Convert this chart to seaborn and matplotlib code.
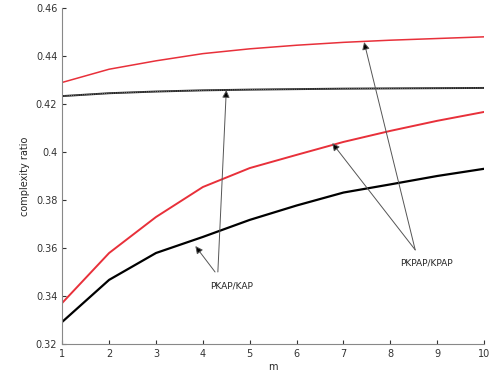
import numpy as np
import pandas as pd
import matplotlib
matplotlib.use("Agg")
import matplotlib.pyplot as plt
import seaborn as sns

# values
m = [1, 2, 3, 4, 5, 6, 7, 8, 9, 10]
pkpap_high = [0.429, 0.4345, 0.438, 0.441, 0.443, 0.4445, 0.4457, 0.4466, 0.4473, 0.448]
pkap_high = [0.4233, 0.4245, 0.4252, 0.4257, 0.426, 0.4262, 0.4264, 0.4265, 0.4266, 0.4267]
pkpap_low = [0.3371, 0.3579, 0.3729, 0.3854, 0.3933, 0.3988, 0.4042, 0.4088, 0.413, 0.4167]
pkap_low = [0.3292, 0.3467, 0.3579, 0.3646, 0.3717, 0.3777, 0.3831, 0.3865, 0.39, 0.393]

yticks = [0.32, 0.34, 0.36, 0.38, 0.4, 0.42, 0.44, 0.46]
ytick_labels = ["0.32", "0.34", "0.36", "0.38", "0.4", "0.42", "0.44", "0.46"]

sns.set_style("ticks")
plt.rcParams['font.family'] = ['DejaVu Sans']

fig, ax = plt.subplots(figsize=(4.9, 3.83), dpi=100)

sns.lineplot(x=m, y=pkpap_high, color="#e8303a", lw=1.1, ax=ax)
sns.lineplot(x=m, y=pkap_high, color="#222222", lw=1.4, ax=ax)
ax.plot(m, pkap_high, color="#999999", lw=0.6, ls=":")
sns.lineplot(x=m, y=pkpap_low, color="#e8303a", lw=1.4, ax=ax)
sns.lineplot(x=m, y=pkap_low, color="black", lw=1.6, ax=ax)

arrow = dict(arrowstyle="-|>", ec="#555555", fc="black", lw=0.7,
             mutation_scale=11, shrinkA=0, shrinkB=0)
ax.annotate("", xy=(3.84, 0.3608), xytext=(4.26, 0.350), arrowprops=arrow)
ax.annotate("", xy=(4.5, 0.4258), xytext=(4.32, 0.350), arrowprops=arrow)
ax.text(4.62, 0.3442, "PKAP/KAP", fontsize=6.5, ha="center", va="center")

ax.annotate("", xy=(6.76, 0.4037), xytext=(8.53, 0.3592), arrowprops=arrow)
ax.annotate("", xy=(7.44, 0.4458), xytext=(8.53, 0.3592), arrowprops=arrow)
ax.text(8.78, 0.3537, "PKPAP/KPAP", fontsize=6.5, ha="center", va="center")

ax.set_xlim(1, 10)
ax.set_ylim(0.32, 0.46)
ax.set_xticks(m)
ax.set_yticks(yticks)
ax.set_yticklabels(ytick_labels)
ax.tick_params(direction="in", labelsize=7, length=3, colors="#333333")
ax.set_xlabel("m", fontsize=7, labelpad=2)
ax.set_ylabel("complexity ratio", fontsize=7, labelpad=4)
sns.despine(ax=ax)
for s in ["left", "bottom"]:
    ax.spines[s].set_color("#888888")
    ax.spines[s].set_linewidth(0.8)

fig.subplots_adjust(left=0.127, right=0.988, top=0.979, bottom=0.102)
fig.savefig("out.png", dpi=100)
